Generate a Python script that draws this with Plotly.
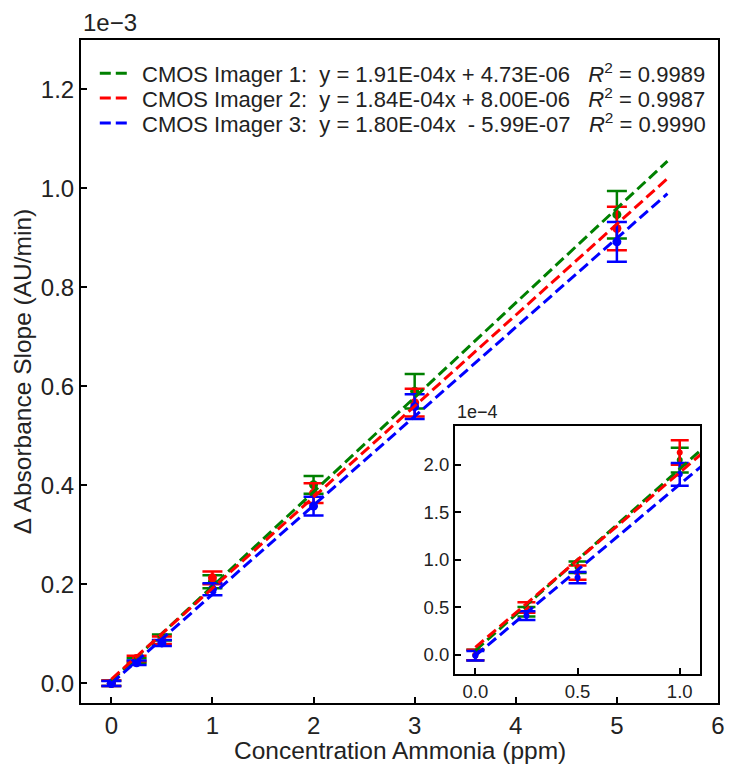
import plotly.graph_objects as go

# ---------------- data ----------------
conc = [0, 0.25, 0.5, 1, 2, 3, 5]

imager1_mean = [0.0, 4.56e-5, 9.23e-5, 2.05e-4, 4.01e-4, 5.90e-4, 9.47e-4]
imager1_err = [5.5e-6, 5.0e-6, 6.0e-6, 1.3e-5, 1.8e-5, 3.5e-5, 4.8e-5]
imager2_mean = [0.0, 5.00e-5, 8.67e-5, 2.13e-4, 3.84e-4, 5.67e-4, 9.19e-4]
imager2_err = [5.5e-6, 5.5e-6, 7.5e-6, 1.3e-5, 2.0e-5, 2.8e-5, 4.4e-5]
imager3_mean = [-7e-7, 4.14e-5, 8.14e-5, 1.90e-4, 3.58e-4, 5.59e-4, 8.92e-4]
imager3_err = [5.0e-6, 4.5e-6, 6.0e-6, 1.2e-5, 1.9e-5, 2.5e-5, 4.0e-5]

fit_slope = [1.91e-4, 1.84e-4, 1.80e-4]
fit_intercept = [4.73e-6, 8.00e-6, -5.99e-7]
fit_r2 = ["0.9989", "0.9987", "0.9990"]
fit_label = ["y = 1.91E-04x + 4.73E-06", "y = 1.84E-04x + 8.00E-06", "y = 1.80E-04x \u00a0- 5.99E-07"]
fit_x = [0, 5.5]

names = ["CMOS Imager 1:", "CMOS Imager 2:", "CMOS Imager 3:"]
colors = ["#008000", "#ff0000", "#0000ff"]

main_yticks = [0.0, 2e-4, 4e-4, 6e-4, 8e-4, 1.0e-3, 1.2e-3]
main_yticktext = ["0.0", "0.2", "0.4", "0.6", "0.8", "1.0", "1.2"]
main_xticks = [0, 1, 2, 3, 4, 5, 6]
inset_yticks = [0.0, 0.5e-4, 1.0e-4, 1.5e-4, 2.0e-4]
inset_yticktext = ["0.0", "0.5", "1.0", "1.5", "2.0"]
inset_xticks = [0.0, 0.5, 1.0]
inset_xticktext = ["0.0", "0.5", "1.0"]

means = [imager1_mean, imager2_mean, imager3_mean]
errs = [imager1_err, imager2_err, imager3_err]

FONT = "Liberation Sans, Arial, sans-serif"
TXT = "#222"
DASH = "11px,5px"

fig = go.Figure()

for axes, msize, capw in [(("x", "y"), 9, 10), (("x2", "y2"), 6, 9)]:
    for i in range(3):
        fig.add_trace(go.Scatter(
            x=conc, y=means[i], mode="markers",
            marker=dict(color=colors[i], size=msize),
            error_y=dict(type="data", array=errs[i], visible=True,
                         color=colors[i], thickness=2.5, width=capw),
            xaxis=axes[0], yaxis=axes[1], showlegend=False,
            hoverinfo="skip"))
    for i in range(3):
        fy = [fit_slope[i] * xv + fit_intercept[i] for xv in fit_x]
        fig.add_trace(go.Scatter(
            x=fit_x, y=fy, mode="lines",
            line=dict(color=colors[i], width=3, dash=DASH),
            name=names[i], xaxis=axes[0], yaxis=axes[1],
            showlegend=False, hoverinfo="skip"))

axis_common = dict(showline=True, linecolor="black", linewidth=2, mirror=True,
                   ticks="inside", ticklen=6, tickwidth=1.5, tickcolor="black",
                   showgrid=False, zeroline=False)

fig.update_layout(
    width=735, height=765,
    margin=dict(l=81, r=10, t=40, b=62),
    paper_bgcolor="white", plot_bgcolor="white",
    font=dict(family=FONT, color=TXT),
    xaxis=dict(range=[-0.3, 6], tickvals=main_xticks, domain=[0, 1],
               tickfont=dict(family=FONT, size=24, color=TXT),
               **axis_common),
    yaxis=dict(range=[-0.4e-4, 1.3e-3], tickvals=main_yticks, ticktext=main_yticktext,
               domain=[0, 1],
               tickfont=dict(family=FONT, size=24, color=TXT),
               title=dict(text="\u0394 Absorbance Slope (AU/min)",
                          font=dict(family=FONT, size=24.5, color=TXT), standoff=2),
               **axis_common),
    xaxis2=dict(range=[-0.1, 1.1], tickvals=inset_xticks, ticktext=inset_xticktext,
                domain=[0.587, 0.972], anchor="y2",
                tickfont=dict(family=FONT, size=18.5, color=TXT), **axis_common),
    yaxis2=dict(range=[-0.2e-4, 2.41e-4], tickvals=inset_yticks, ticktext=inset_yticktext,
                domain=[0.0437, 0.418], anchor="x2",
                tickfont=dict(family=FONT, size=18.5, color=TXT), **axis_common),
    showlegend=False,
)

# x-axis title
fig.add_annotation(text="Concentration Ammonia (ppm)", xref="paper", yref="paper",
                   x=0.5, y=-0.071, xanchor="center", yanchor="middle", showarrow=False,
                   font=dict(family=FONT, size=24.5, color=TXT))

# legend drawn as text + dashed sample lines
leg_y = [0.950, 0.9125, 0.875]
for i in range(3):
    label = (f"{names[i]}\u00a0 {fit_label[i]} \u00a0 "
             f"<i>R</i><sup>2</sup> = {fit_r2[i]}")
    fig.add_annotation(text=label, xref="paper", yref="paper", x=0.092, y=leg_y[i],
                       xanchor="left", yanchor="middle", showarrow=False,
                       font=dict(family=FONT, size=22, color=TXT))
    fig.add_shape(type="line", xref="paper", yref="paper",
                  x0=0.0295, x1=0.075, y0=leg_y[i], y1=leg_y[i],
                  line=dict(color=colors[i], width=3, dash=DASH))

fig.add_annotation(text="1e\u22123", xref="paper", yref="paper", x=0.0, y=1.0,
                   xanchor="left", yanchor="bottom", yshift=2, showarrow=False,
                   font=dict(family=FONT, size=24, color=TXT))
fig.add_annotation(text="1e\u22124", xref="paper", yref="paper", x=0.587, y=0.418,
                   xanchor="left", yanchor="bottom", yshift=2, showarrow=False,
                   font=dict(family=FONT, size=18, color=TXT))

fig.write_html("out.html")
